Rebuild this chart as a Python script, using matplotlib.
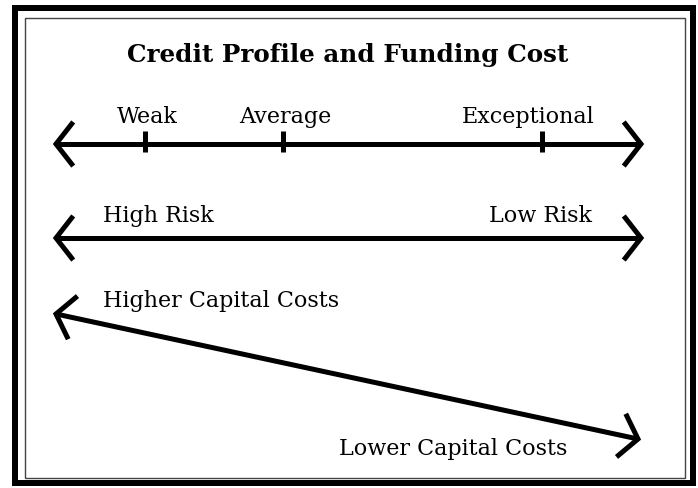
import numpy as np
import matplotlib
matplotlib.use("Agg")
import matplotlib.pyplot as plt
from matplotlib.patches import Rectangle

# chart content
title = "Credit Profile and Funding Cost"
profile_ticks = ["Weak", "Average", "Exceptional"]
profile_pos = [145, 283, 542]          # where each tick sits along the scale
profile_label_x = [147, 285, 528]      # labels are not exactly centred on ticks
risk_labels = ["High Risk", "Low Risk"]
cost_labels = ["Higher Capital Costs", "Lower Capital Costs"]

W, H = 698, 489
plt.rcParams['font.family'] = ['DejaVu Serif']


def chevron_arrow(ax, p0, p1, lw_px=5, arm=28, angle=52):
    p0 = np.array(p0, float)
    p1 = np.array(p1, float)
    lw = lw_px * 0.72
    ax.plot([p0[0], p1[0]], [p0[1], p1[1]], color="black", lw=lw,
            solid_capstyle="butt")
    d = (p1 - p0) / np.hypot(*(p1 - p0))
    a = np.radians(angle)
    for tip, u in ((p0, d), (p1, -d)):
        r1 = np.array([u[0] * np.cos(a) - u[1] * np.sin(a),
                       u[0] * np.sin(a) + u[1] * np.cos(a)])
        r2 = np.array([u[0] * np.cos(-a) - u[1] * np.sin(-a),
                       u[0] * np.sin(-a) + u[1] * np.cos(-a)])
        e1, e2 = tip + r1 * arm, tip + r2 * arm
        ax.plot([e1[0], tip[0], e2[0]], [e1[1], tip[1], e2[1]], color="black",
                lw=lw, solid_joinstyle="miter", solid_capstyle="butt")


fig = plt.figure(figsize=(W / 100, H / 100), dpi=100)
ax = fig.add_axes([0, 0, 1, 1])
ax.set_xlim(0, W)
ax.set_ylim(H, 0)
ax.axis("off")

# double frame
ax.add_patch(Rectangle((15, 9), 678, 475, fill=False, ec="black", lw=6 * 0.72))
ax.add_patch(Rectangle((24.5, 18.5), 660.5, 460, fill=False, ec="#444444", lw=1.4 * 0.72))

ax.text(348, 62, title, ha="center", va="baseline", fontsize=17.7, fontweight="bold")

# credit profile scale
chevron_arrow(ax, (56, 145), (641, 145))
for lab, x, lx in zip(profile_ticks, profile_pos, profile_label_x):
    ax.plot([x, x], [132, 153], color="black", lw=5 * 0.72, solid_capstyle="butt")
    ax.text(lx, 123, lab, ha="center", va="baseline", fontsize=16)

# risk scale
chevron_arrow(ax, (56, 239), (641, 239))
ax.text(103, 222, risk_labels[0], ha="left", va="baseline", fontsize=16)
ax.text(592, 222, risk_labels[1], ha="right", va="baseline", fontsize=16)

# capital cost slope
chevron_arrow(ax, (56, 315), (638, 440))
ax.text(103, 307, cost_labels[0], ha="left", va="baseline", fontsize=16)
ax.text(567, 455, cost_labels[1], ha="right", va="baseline", fontsize=16)

fig.savefig("out.png", dpi=100)
